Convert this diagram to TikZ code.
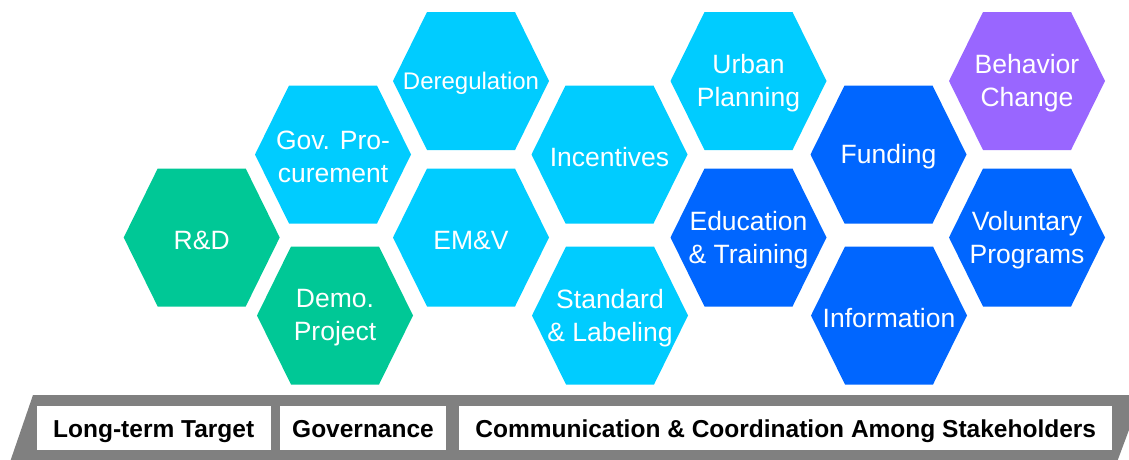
\documentclass[tikz,border=0pt]{standalone}
\usepackage{fontspec}
\setmainfont{Liberation Sans}
\definecolor{hgreen}{HTML}{00C896}
\definecolor{hlight}{HTML}{00CCFF}
\definecolor{hdark}{HTML}{0066FF}
\definecolor{hpurple}{HTML}{9966FF}
\definecolor{bargray}{HTML}{808080}
\tikzset{
  hextext/.style={text=white, align=center, font=\fontsize{26.5}{33}\selectfont, inner sep=0pt, yshift=-2.5pt},
  barbox/.style={fill=white, draw=none, minimum height=44pt, inner sep=0pt, text=black,
    text height=19pt, text depth=0pt, font=\fontsize{24.5}{28}\selectfont\bfseries},
}
\newcommand\hexcell[5]{%
  \fill[#4] ({#2-78},#3) -- ({#2-44},{#3-69}) -- ({#2+44},{#3-69}) -- ({#2+78},#3)
    -- ({#2+44},{#3+69}) -- ({#2-44},{#3+69}) -- cycle;
  \node[hextext] (#1) at (#2,#3) {#5};}
\begin{document}
\begin{tikzpicture}[x=1pt,y=-1pt]
\useasboundingbox (0,0) rectangle (1129,459);
% hexagons
\hexcell{rd}{201.7}{237.5}{hgreen}{R\&D}
\hexcell{demo}{335}{315.5}{hgreen}{Demo.\\Project}
\hexcell{gov}{333}{154.5}{hlight}{Gov. Pro-\\curement}
\hexcell{dereg}{471}{81}{hlight}{\fontsize{24}{30}\selectfont Deregulation}
\hexcell{emv}{471}{237.5}{hlight}{EM\&V}
\hexcell{inc}{609.5}{154.5}{hlight}{Incentives}
\hexcell{std}{610}{315.5}{hlight}{Standard\\\& Labeling}
\hexcell{urban}{748.5}{81}{hlight}{Urban\\Planning}
\hexcell{edu}{748.5}{237.5}{hdark}{Education\\\& Training}
\hexcell{fund}{888.5}{154.5}{hdark}{Funding}
\hexcell{info}{889}{315.5}{hdark}{Information}
\hexcell{behav}{1027}{81}{hpurple}{Behavior\\Change}
\hexcell{volun}{1027}{237.5}{hdark}{Voluntary\\Programs}
% bottom bar
\fill[bargray] (10,462) -- (33,395) -- (1142,395) -- (1117,462) -- cycle;
\node[barbox, minimum width=234pt] (lt) at (153.7,428) {Long-term Target};
\node[barbox, minimum width=166pt] (gv) at (363,428) {Governance};
\node[barbox, minimum width=652.7pt] (cc) at (785.7,428) {Communication \& Coordination Among Stakeholders};
\end{tikzpicture}
\end{document}
